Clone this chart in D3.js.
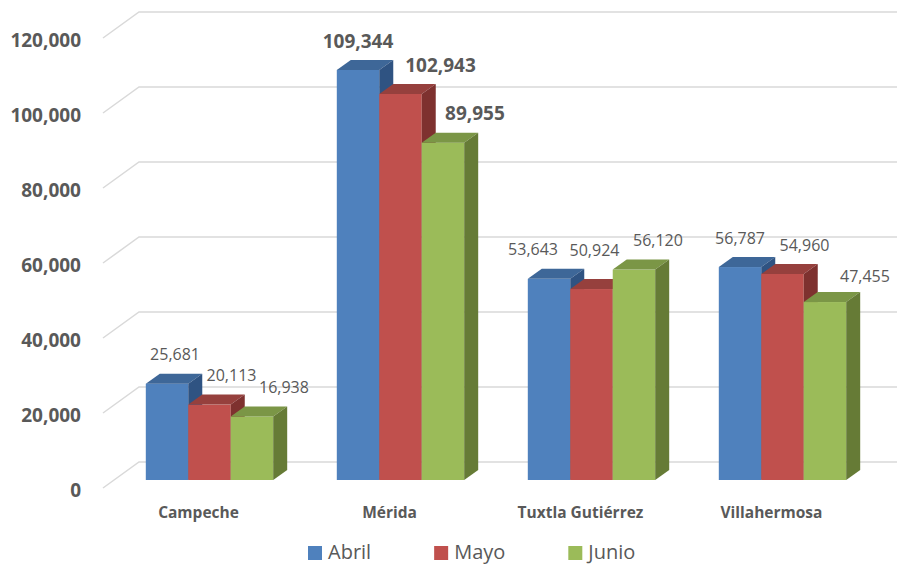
<!DOCTYPE html>
<html>
<head>
<meta charset="utf-8">
<script src="https://cdn.jsdelivr.net/npm/d3@7/dist/d3.min.js"></script>
<style>
  body { margin: 0; background: #fff; }
  svg text { font-family: "Open Sans", sans-serif; fill: #595959; }
</style>
</head>
<body>
<svg id="chart"></svg>
<script>
// data
const categories = ['Campeche', 'Mérida', 'Tuxtla Gutiérrez', 'Villahermosa'];
const series = ['Abril', 'Mayo', 'Junio'];
const abril = [25681, 109344, 53643, 56787];
const mayo = [20113, 102943, 50924, 54960];
const junio = [16938, 89955, 56120, 47455];
const yTicks = [0, 20000, 40000, 60000, 80000, 100000, 120000];

const values = [abril, mayo, junio];

// Svg container
const w = 897;
const h = 564;
const svg = d3.select('#chart').attr('width', w).attr('height', h);

// colours: front, top, side
const colors = {
    Abril: ['#4F81BD', '#3E6798', '#2F5382'],
    Mayo:  ['#C0504D', '#96403D', '#7E312F'],
    Junio: ['#9BBB59', '#7B9646', '#667B36']
};

// 3d geometry
const wallDx = 36, wallDy = -26;      // side wall depth
const barDx = 14, barDy = -10;        // bar depth
const frontShiftX = -11, frontShiftY = 8;   // wall front vs bar front

const y = d3.scaleLinear().domain([0, 120000]).range([480, 30]);
const x0 = d3.scaleBand().domain(categories).range([114, 878])
    .paddingInner(0.333).paddingOuter(0.1665);
const x1 = d3.scaleBand().domain(series).range([0, x0.bandwidth()]);

// gridlines: side wall diagonal + back wall line
const wallLeftX = 103;
const grid = svg.append('g').attr('stroke', '#D9D9D9').attr('stroke-width', 1.5).attr('fill', 'none');
yTicks.forEach(t => {
    const yf = y(t) + frontShiftY;
    grid.append('path')
        .attr('d', `M${wallLeftX},${yf} L${wallLeftX + wallDx},${yf + wallDy} L${w},${yf + wallDy}`);
});

// y axis labels
svg.append('g').selectAll('text')
    .data(yTicks)
    .join('text')
    .attr('x', 81)
    .attr('y', d => y(d) + frontShiftY + 2)
    .attr('dy', '0.35em')
    .attr('text-anchor', 'end')
    .style('font-size', '19px')
    .style('font-weight', 'bold')
    .text(d3.format(','));

// bars
const bars = [];
series.forEach((s, si) => {
    categories.forEach((c, ci) => {
        bars.push({ s, si, c, ci, v: values[si][ci] });
    });
});

const barG = svg.append('g');
series.forEach(s => {
    const g = barG.append('g');
    const data = bars.filter(d => d.s === s);
    const bw = x1.bandwidth();
    const col = colors[s];
    g.selectAll('.front').data(data).join('rect')
        .attr('x', d => x0(d.c) + x1(d.s))
        .attr('y', d => y(d.v))
        .attr('width', bw)
        .attr('height', d => y(0) - y(d.v))
        .attr('fill', col[0]);
    g.selectAll('.top').data(data).join('path')
        .attr('d', d => {
            const xl = x0(d.c) + x1(d.s), yt = y(d.v);
            return `M${xl},${yt} L${xl + barDx},${yt + barDy} L${xl + bw + barDx},${yt + barDy} L${xl + bw},${yt} Z`;
        })
        .attr('fill', col[1]);
    g.selectAll('.side').data(data).join('path')
        .attr('d', d => {
            const xr = x0(d.c) + x1(d.s) + bw, yt = y(d.v), yb = y(0);
            return `M${xr},${yt} L${xr + barDx},${yt + barDy} L${xr + barDx},${yb + barDy} L${xr},${yb} Z`;
        })
        .attr('fill', col[2]);
});

// data labels
const labelDx = { Abril: 0, Mayo: 22, Junio: 32 };
const nudge = { 'Campeche|Abril': [8, 0], 'Tuxtla Gutiérrez|Abril': [-16, 0],
    'Tuxtla Gutiérrez|Mayo': [-19, -10], 'Tuxtla Gutiérrez|Junio': [-8, 0],
    'Mérida|Mayo': [18, 0], 'Villahermosa|Junio': [8, 3] };
svg.append('g').selectAll('text')
    .data(bars)
    .join('text')
    .attr('x', d => {
        const n = nudge[d.c + '|' + d.s] || [0, 0];
        return x0(d.c) + x1(d.s) + x1.bandwidth() / 2 + labelDx[d.s] + n[0];
    })
    .attr('y', d => {
        const n = nudge[d.c + '|' + d.s] || [0, 0];
        return y(d.v) + barDy - 19 + n[1];
    })
    .attr('dy', '0.35em')
    .attr('text-anchor', 'middle')
    .style('font-size', d => d.c === 'Mérida' ? '19px' : '16px')
    .style('font-weight', d => d.c === 'Mérida' ? 'bold' : 'normal')
    .text(d => d3.format(',')(d.v));

// category labels
svg.append('g').selectAll('text')
    .data(categories)
    .join('text')
    .attr('x', d => x0(d) + x0.bandwidth() / 2 + frontShiftX)
    .attr('y', 513)
    .attr('dy', '0.35em')
    .attr('text-anchor', 'middle')
    .style('font-size', '15.5px')
    .style('font-weight', 'bold')
    .text(d => d);

// legend
const legend = svg.append('g');
let lx = 308;
series.forEach(s => {
    legend.append('rect').attr('x', lx).attr('y', 546).attr('width', 14).attr('height', 14)
        .attr('fill', colors[s][0]);
    const t = legend.append('text')
        .attr('x', lx + 20).attr('y', 552).attr('dy', '0.35em')
        .style('font-size', '20px')
        .text(s);
    lx += 20 + t.node().getComputedTextLength() + 63;
});
</script>
</body>
</html>
